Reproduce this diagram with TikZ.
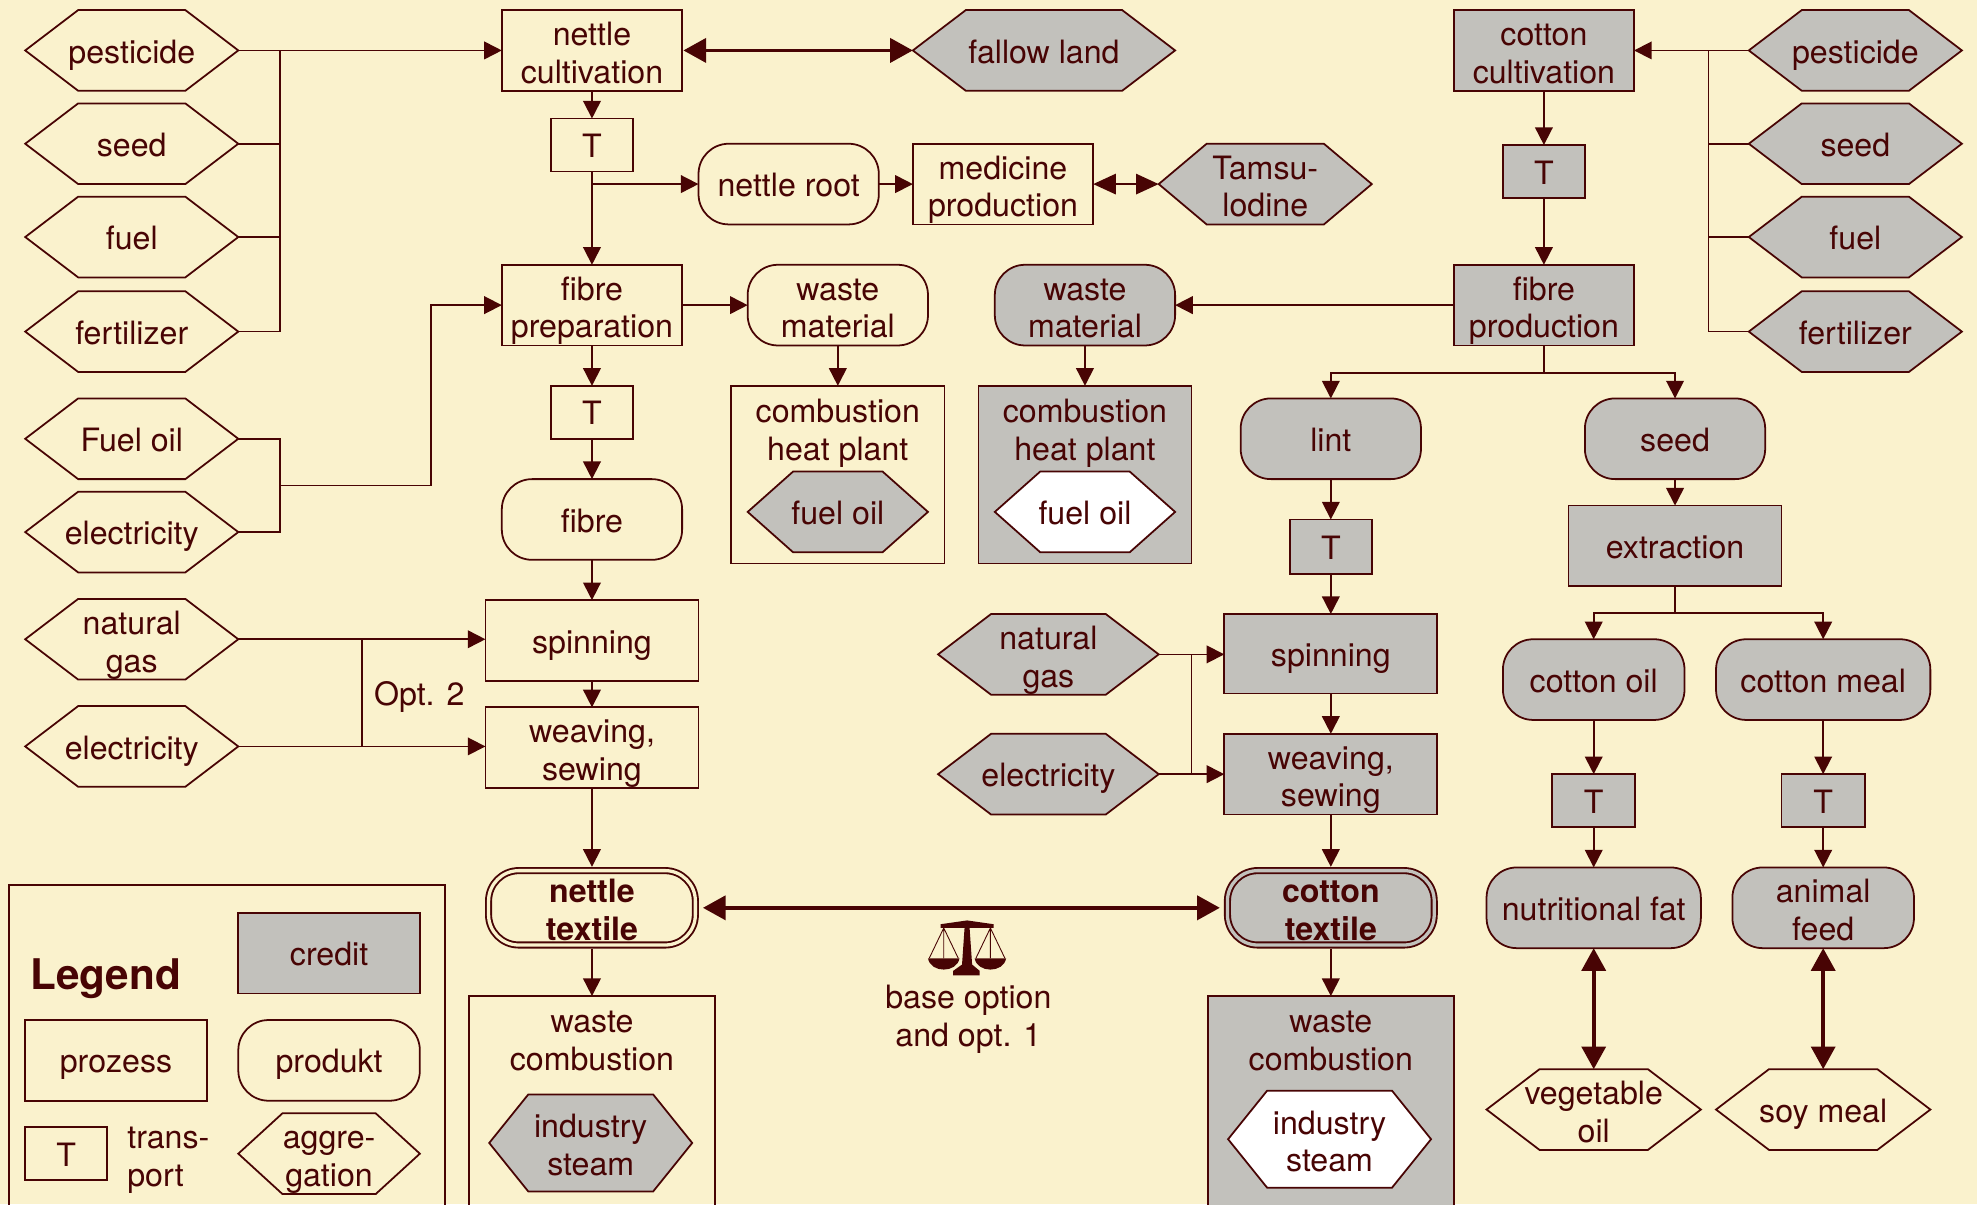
\documentclass[tikz,border=0pt]{standalone}
\usepackage{fontspec}
\setmainfont{TeX Gyre Heros}
\usetikzlibrary{arrows.meta}
\definecolor{bgc}{RGB}{250,242,205}
\definecolor{ink}{RGB}{72,4,4}
\definecolor{grayc}{RGB}{194,193,188}
\makeatletter
\def\hexinset{42pt}
\pgfdeclareshape{hexbox}{
  \inheritsavedanchors[from=rectangle]
  \inheritanchorborder[from=rectangle]
  \inheritanchor[from=rectangle]{center}
  \inheritanchor[from=rectangle]{north}
  \inheritanchor[from=rectangle]{south}
  \inheritanchor[from=rectangle]{east}
  \inheritanchor[from=rectangle]{west}
  \backgroundpath{
    \southwest \pgf@xa=\pgf@x \pgf@ya=\pgf@y
    \northeast \pgf@xb=\pgf@x \pgf@yb=\pgf@y
    \pgf@yc=.5\pgf@ya \advance\pgf@yc by .5\pgf@yb
    \pgf@xc=\pgf@xa \advance\pgf@xc by \hexinset
    \dimen@=\pgf@xb \advance\dimen@ by -\hexinset
    \pgfpathmoveto{\pgfqpoint{\pgf@xa}{\pgf@yc}}
    \pgfpathlineto{\pgfqpoint{\pgf@xc}{\pgf@yb}}
    \pgfpathlineto{\pgfqpoint{\dimen@}{\pgf@yb}}
    \pgfpathlineto{\pgfqpoint{\pgf@xb}{\pgf@yc}}
    \pgfpathlineto{\pgfqpoint{\dimen@}{\pgf@ya}}
    \pgfpathlineto{\pgfqpoint{\pgf@xc}{\pgf@ya}}
    \pgfpathclose
  }
}
\makeatother
\tikzset{
  x=1pt,y=-1pt,
  span/.style n args={4}{minimum width={(#3-#1)*1pt},minimum height={(#4-#2)*1pt},at={({(#1+#3)/2},{(#2+#4)/2})}},
  base/.style={draw=ink,text=ink,line width=1.4pt,inner sep=0pt,outer sep=0pt,align=center,
    font=\fontsize{25.5}{30}\selectfont,text height=23pt,text depth=3pt},
  two/.style={text height=55pt},
  proc/.style={base,rectangle},
  prod/.style={base,rectangle,rounded corners=24pt},
  hexn/.style={base,shape=hexbox},
  ins/.code={\def\hexinset{#1}},
  cr/.style={fill=grayc},
  wh/.style={fill=white},
  dbl/.style={double distance=2.6pt,line width=1.5pt,font=\fontsize{25.5}{30}\selectfont\bfseries},
  lab/.style={text=ink,inner sep=0pt,outer sep=0pt,align=center,font=\fontsize{25.5}{30}\selectfont,
    text height=23pt,text depth=3pt},
  ln/.style={draw=ink,line width=1.4pt},
  arr/.style={ln,-{Triangle[length=14pt,width=14pt]}},
  tharr/.style={draw=ink,line width=3pt,{Triangle[length=18pt,width=19pt]}-{Triangle[length=18pt,width=19pt]}},
}
\begin{document}
\begin{tikzpicture}
\useasboundingbox[fill=bgc] (0,0) rectangle (1568,955);
% left inputs
\node[hexn,span={20}{8}{189}{72}] (hp) {pesticide};
\node[hexn,span={20}{82}{189}{146}] (hs) {seed};
\node[hexn,span={20}{156}{189}{220}] (hf) {fuel};
\node[hexn,span={20}{231}{189}{295}] (hz) {fertilizer};
\node[hexn,span={20}{316}{189}{380}] (hfo) {Fuel oil};
\node[hexn,span={20}{390}{189}{454}] (he1) {electricity};
\node[hexn,two,span={20}{475}{189}{539}] (hng) {natural\\gas};
\node[hexn,span={20}{560}{189}{624}] (he2) {electricity};
% nettle column
\node[proc,two,span={398}{8}{541}{72}] (nc) {nettle\\cultivation};
\node[proc,span={437}{94}{502}{136}] (t1) {T};
\node[proc,two,span={398}{210}{541}{274}] (fp) {fibre\\preparation};
\node[proc,span={437}{306}{502}{348}] (t2) {T};
\node[prod,span={398}{380}{541}{444}] (fi) {fibre};
\node[proc,span={385}{476}{554}{540}] (sp) {spinning};
\node[proc,two,span={385}{561}{554}{625}] (we) {weaving,\\sewing};
\node[prod,two,dbl,double=bgc,span={387.5}{690.5}{551.5}{749.5}] (nt) {nettle\\textile};
\node[proc,span={372}{790}{567}{975}] (wc) {};
\node[lab,two] (wct) at (469.5,823) {waste\\combustion};
\node[hexn,two,cr,ins=31pt,span={388}{868}{549}{945}] (is1) {industry\\steam};
% upper middle
\node[hexn,cr,span={724}{8}{932}{72}] (fl) {fallow land};
\node[prod,span={554}{114}{697}{178}] (nr) {nettle root};
\node[proc,two,span={724}{114}{867}{178}] (mp) {medicine\\production};
\node[hexn,two,cr,ins=38pt,span={919}{114}{1088}{178}] (ta) {Tamsu-\\lodine};
\node[prod,two,span={593}{210}{736}{274}] (wm1) {waste\\material};
\node[proc,span={580}{306}{749}{447}] (ch1) {};
\node[lab,two] (ch1t) at (664.5,339) {combustion\\heat plant};
\node[hexn,cr,ins=36pt,span={593}{374}{736}{438}] (fo1) {fuel oil};
\node[prod,two,cr,span={789}{210}{932}{274}] (wm2) {waste\\material};
\node[proc,cr,span={776}{306}{945}{447}] (ch2) {};
\node[lab,two] (ch2t) at (860.5,339) {combustion\\heat plant};
\node[hexn,wh,ins=36pt,span={789}{374}{932}{438}] (fo2) {fuel oil};
% cotton
\node[proc,two,cr,span={1153}{8}{1296}{72}] (cc) {cotton\\cultivation};
\node[proc,cr,span={1192}{115}{1257}{157}] (t3) {T};
\node[proc,two,cr,span={1153}{210}{1296}{274}] (fpr) {fibre\\production};
\node[hexn,cr,span={1387}{8}{1556}{72}] (rp) {pesticide};
\node[hexn,cr,span={1387}{82}{1556}{146}] (rs) {seed};
\node[hexn,cr,span={1387}{156}{1556}{220}] (rf) {fuel};
\node[hexn,cr,span={1387}{231}{1556}{295}] (rz) {fertilizer};
\node[prod,cr,span={984}{316}{1127}{380}] (li) {lint};
\node[proc,cr,span={1023}{412}{1088}{455}] (t4) {T};
\node[proc,cr,span={971}{487}{1140}{550}] (sp2) {spinning};
\node[proc,two,cr,span={971}{582}{1140}{646}] (we2) {weaving,\\sewing};
\node[prod,two,cr,dbl,double=grayc,span={973.5}{690.5}{1137.5}{749.5}] (ct) {cotton\\textile};
\node[proc,cr,span={958}{790}{1153}{975}] (wc2) {};
\node[lab,two] (wc2t) at (1055.5,823) {waste\\combustion};
\node[hexn,two,wh,ins=31pt,span={974}{865}{1135}{942}] (is2) {industry\\steam};
\node[hexn,two,cr,span={744}{487}{919}{551}] (ng2) {natural\\gas};
\node[hexn,cr,span={744}{582}{919}{646}] (el2) {electricity};
\node[prod,cr,span={1257}{316}{1400}{380}] (cs) {seed};
\node[proc,cr,span={1244}{401}{1413}{465}] (ex) {extraction};
\node[prod,cr,span={1192}{507}{1336}{571}] (co) {cotton oil};
\node[prod,cr,span={1361}{507}{1531}{571}] (cm) {cotton meal};
\node[proc,cr,span={1231}{614}{1297}{656}] (t5) {T};
\node[proc,cr,span={1413}{614}{1479}{656}] (t6) {T};
\node[prod,cr,span={1179}{688}{1349}{752}] (nf) {nutritional fat};
\node[prod,two,cr,span={1374}{688}{1518}{752}] (af) {animal\\feed};
\node[hexn,two,span={1179}{848}{1349}{912}] (vo) {vegetable\\oil};
\node[hexn,span={1361}{848}{1531}{912}] (sm) {soy meal};
% legend
\node[proc,span={7}{702}{353}{975}] (lg) {};
\node[lab,anchor=west,font=\fontsize{33.5}{36}\selectfont\bfseries] (lgt) at (24,775) {Legend};
\node[proc,cr,span={189}{724}{333}{788}] (lc) {credit};
\node[proc,span={20}{809}{164}{873}] (lp) {prozess};
\node[prod,span={189}{809}{333}{873}] (lr) {produkt};
\node[proc,span={20}{894}{85}{936}] (lt) {T};
\node[lab,two,anchor=west,align=left] (ltt) at (101,915) {trans-\\port};
\node[hexn,two,ins=35pt,span={189}{883}{333}{947}] (la) {aggre-\\gation};
% labels
\node[lab] (op2) at (332.5,549.3) {Opt. 2};
\node[lab,two] (bo) at (768,804) {base option\\and opt. 1};
% left connectors
\coordinate (jl) at (222,40);
\draw[arr] (hp.east) -- (nc.west);
\draw[ln] (jl) -- (jl |- hz.east);
\draw[ln] (hs.east) -- (jl |- hs.east);
\draw[ln] (hf.east) -- (jl |- hf.east);
\draw[ln] (hz.east) -- (jl |- hz.east);
\coordinate (jo) at (222,385);
\draw[ln] (hfo.east) -| (jo);
\draw[ln] (he1.east) -| (jo);
\coordinate (jv) at (342,241);
\draw[arr] (jo) -- (jo -| jv) -- (jv |- fp.west) -- (fp.west);
\draw[arr] (hng.east) -- (hng.east -| sp.west);
\draw[arr] (he2.east) -- (he2.east -| we.west);
\coordinate (jg) at (287,507);
\draw[ln] (jg) -- (jg |- he2.east);
% nettle column connectors
\draw[arr] (nc.south) -- (t1.north);
\draw[arr] (t1.south) -- (fp.north);
\coordinate (tj) at (469.5,146);
\draw[arr] (tj) -- (nr.west);
\draw[arr] (nr.east) -- (mp.west);
\draw[arr] (fp.east) -- (wm1.west);
\draw[arr] (wm1.south) -- (ch1.north);
\draw[arr] (fp.south) -- (t2.north);
\draw[arr] (t2.south) -- (fi.north);
\draw[arr] (fi.south) -- (sp.north);
\draw[arr] (sp.south) -- (we.north);
\draw[arr,shorten >=3pt] (we.south) -- (nt.north);
\draw[arr,shorten <=3pt] (nt.south) -- (wc.north);
\draw[tharr,shorten <=1pt] (nc.east) -- (fl.west);
\draw[tharr,line width=2pt,{Triangle[length=18pt,width=16pt]}-{Triangle[length=18pt,width=16pt]}] (mp.east) -- (ta.west);
\draw[tharr,shorten <=6pt,shorten >=6pt] (nt.east) -- (ct.west);
% cotton connectors
\draw[arr] (rp.west) -- (cc.east);
\coordinate (jr) at (1355,40);
\draw[ln] (jr) -- (jr |- rz.west);
\draw[ln] (rs.west) -- (jr |- rs.west);
\draw[ln] (rf.west) -- (jr |- rf.west);
\draw[ln] (rz.west) -- (jr |- rz.west);
\draw[arr] (cc.south) -- (t3.north);
\draw[arr] (t3.south) -- (fpr.north);
\draw[arr] (fpr.west) -- (wm2.east);
\draw[arr] (wm2.south) -- (ch2.north);
\coordinate (cj) at (1224.5,296);
\draw[ln] (fpr.south) -- (cj);
\draw[arr] (cj) -| (li.north);
\draw[arr] (cj) -| (cs.north);
\draw[arr] (li.south) -- (t4.north);
\draw[arr] (t4.south) -- (sp2.north);
\draw[arr] (sp2.south) -- (we2.north);
\draw[arr,shorten >=3pt] (we2.south) -- (ct.north);
\draw[arr,shorten <=3pt] (ct.south) -- (wc2.north);
\draw[arr] (ng2.east) -- (ng2.east -| sp2.west);
\draw[arr] (el2.east) -- (el2.east -| we2.west);
\coordinate (jc) at (945,519);
\draw[ln] (jc) -- (jc |- el2.east);
\draw[arr] (cs.south) -- (ex.north);
\coordinate (ej) at (1328.5,486);
\draw[ln] (ex.south) -- (ej);
\draw[arr] (ej) -| (co.north);
\draw[arr] (ej) -| (cm.north);
\draw[arr] (co.south) -- (t5.north);
\draw[arr] (cm.south) -- (t6.north);
\draw[arr] (t5.south) -- (nf.north);
\draw[arr] (t6.south) -- (af.north);
\draw[tharr] (nf.south) -- (vo.north);
\draw[tharr] (af.south) -- (sm.north);
% balance
\fill[ink] (746,733) -- (767,730) -- (788,733) -- (788,736) -- (746,736) -- cycle;
\fill[ink] (765,736) -- (769,736) -- (771,765) -- (777,770) -- (777,773.5) -- (756,773.5) -- (756,770) -- (763,765) -- cycle;
\fill[ink] (736,760) .. controls (738,772) and (759,772) .. (761,760) -- cycle;
\fill[ink] (773,760) .. controls (775,772) and (796,772) .. (798,760) -- cycle;
\draw[ink,line width=.7pt] (737,760) -- (748.5,736) -- (760,760) (748.5,736) -- (748.5,760);
\draw[ink,line width=.7pt] (774,760) -- (785.5,736) -- (797,760) (785.5,736) -- (785.5,760);
\end{tikzpicture}
\end{document}
